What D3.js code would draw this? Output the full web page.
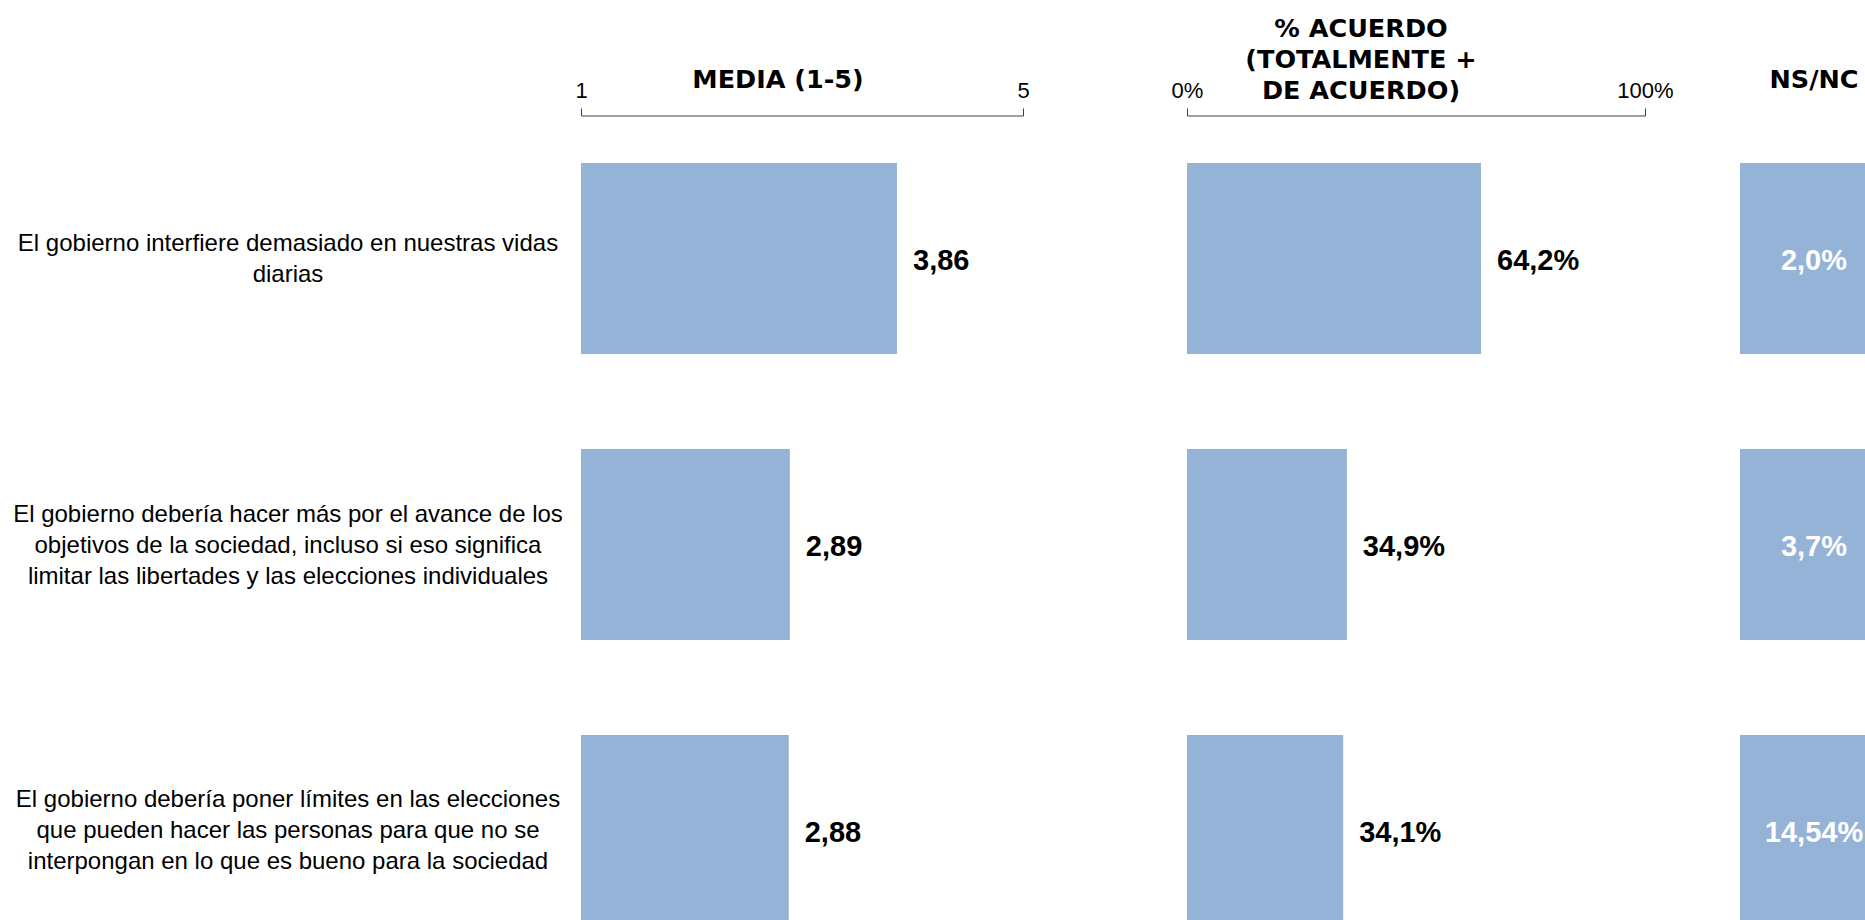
<!DOCTYPE html>
<head>
  <meta charset="utf-8">
  <script src="https://cdnjs.cloudflare.com/ajax/libs/d3/7.8.5/d3.min.js"></script>
</head>

<style>
  body { margin: 0; background: #fff; }
  .axis path, .axis line { stroke: #404040; }
  .axis text { font-family: "Liberation Sans", Arial, sans-serif; font-size: 22px; fill: #000; }
  .head { font-family: "DejaVu Sans", sans-serif; font-weight: bold; font-size: 25.5px; fill: #000; }
  .cat { font-family: "Liberation Sans", Arial, sans-serif; font-size: 24px; fill: #000; }
  .val { font-family: "Liberation Sans", Arial, sans-serif; font-weight: bold; font-size: 29px; fill: #000; }
  .nsval { font-family: "Liberation Sans", Arial, sans-serif; font-weight: bold; font-size: 29px; fill: #fff; }
  .bar { fill: #95b3d7; }
</style>

<body>
  <svg width="1865" height="920" class="chart"></svg>

  <script>
  // data
  let categories = [
    "El gobierno interfiere demasiado en nuestras vidas diarias",
    "El gobierno debería hacer más por el avance de los objetivos de la sociedad, incluso si eso significa limitar las libertades y las elecciones individuales",
    "El gobierno debería poner límites en las elecciones que pueden hacer las personas para que no se interpongan en lo que es bueno para la sociedad"
  ];
  let catLines = [
    ["El gobierno interfiere demasiado en nuestras vidas", "diarias"],
    ["El gobierno debería hacer más por el avance de los", "objetivos de la sociedad, incluso si eso significa", "limitar las libertades y las elecciones individuales"],
    ["El gobierno debería poner límites en las elecciones", "que pueden hacer las personas para que no se", "interpongan en lo que es bueno para la sociedad"]
  ];
  let media = [3.86, 2.89, 2.88];
  let acuerdo = [64.2, 34.9, 34.1];
  let nsnc = [2.0, 3.7, 14.54];
  let nsncLabels = ["2,0%", "3,7%", "14,54%"];
  let mediaTicks = [1, 5];
  let acuerdoTicks = [0, 100];

  let svg = d3.select(".chart");
  let loc = d3.formatLocale({decimal: ",", thousands: ".", grouping: [3], currency: ["", "€"]});
  let f2 = loc.format(".2f"), f1 = loc.format(".1f");

  let y = d3.scaleBand().domain(categories).range([163, 926]).paddingInner(0.332).paddingOuter(0);
  let xm = d3.scaleLinear().domain([1, 5]).range([581, 1023]);
  let xp = d3.scaleLinear().domain([0, 100]).range([1187, 1645]);
  let nsX = 1740, nsW = 148;

  // axes
  svg.append("g")
      .attr("class", "axis")
      .attr("transform", "translate(0,115.5)")
      .call(d3.axisTop(xm).tickValues(mediaTicks).tickSizeInner(0).tickSizeOuter(7).tickPadding(18)
        .tickFormat(d3.format("d")));

  svg.append("g")
      .attr("class", "axis")
      .attr("transform", "translate(0,115.5)")
      .call(d3.axisTop(xp).tickValues(acuerdoTicks).tickSizeInner(0).tickSizeOuter(7).tickPadding(18)
        .tickFormat(function(d) { return d + "%"; }));

  // headers
  svg.append("text").attr("class", "head").attr("x", 778).attr("y", 88)
      .attr("text-anchor", "middle").text("MEDIA (1-5)");
  let h2 = svg.append("text").attr("class", "head").attr("text-anchor", "middle");
  ["% ACUERDO", "(TOTALMENTE +", "DE ACUERDO)"].forEach(function(t, i) {
    h2.append("tspan").attr("x", 1361).attr("y", 37 + i * 31).text(t);
  });
  svg.append("text").attr("class", "head").attr("x", 1814).attr("y", 88)
      .attr("text-anchor", "middle").text("NS/NC");

  // category labels
  categories.forEach(function(c, i) {
    let lines = catLines[i];
    let cy = y(c) + y.bandwidth() / 2;
    let t = svg.append("text").attr("class", "cat").attr("text-anchor", "middle");
    lines.forEach(function(l, j) {
      t.append("tspan").attr("x", 288)
        .attr("y", cy + (j - (lines.length - 1) / 2) * 31 + 8)
        .text(l);
    });
  });

  // media bars
  svg.selectAll(".mbar")
    .data(media)
    .enter().append("rect")
      .attr("class", "bar")
      .attr("x", xm(1))
      .attr("y", function(d, i) { return y(categories[i]); })
      .attr("width", function(d) { return xm(d) - xm(1); })
      .attr("height", y.bandwidth());

  svg.selectAll(".mval")
    .data(media)
    .enter().append("text")
      .attr("class", "val")
      .attr("x", function(d) { return xm(d) + 16; })
      .attr("y", function(d, i) { return y(categories[i]) + y.bandwidth() / 2; })
      .attr("dy", "0.38em")
      .text(function(d) { return f2(d); });

  // acuerdo bars
  svg.selectAll(".pbar")
    .data(acuerdo)
    .enter().append("rect")
      .attr("class", "bar")
      .attr("x", xp(0))
      .attr("y", function(d, i) { return y(categories[i]); })
      .attr("width", function(d) { return xp(d) - xp(0); })
      .attr("height", y.bandwidth());

  svg.selectAll(".pval")
    .data(acuerdo)
    .enter().append("text")
      .attr("class", "val")
      .attr("x", function(d) { return xp(d) + 16; })
      .attr("y", function(d, i) { return y(categories[i]) + y.bandwidth() / 2; })
      .attr("dy", "0.38em")
      .text(function(d) { return f1(d) + "%"; });

  // ns/nc boxes
  svg.selectAll(".nbar")
    .data(nsnc)
    .enter().append("rect")
      .attr("class", "bar")
      .attr("x", nsX)
      .attr("y", function(d, i) { return y(categories[i]); })
      .attr("width", nsW)
      .attr("height", y.bandwidth());

  svg.selectAll(".nval")
    .data(nsnc)
    .enter().append("text")
      .attr("class", "nsval")
      .attr("text-anchor", "middle")
      .attr("x", nsX + nsW / 2)
      .attr("y", function(d, i) { return y(categories[i]) + y.bandwidth() / 2; })
      .attr("dy", "0.38em")
      .text(function(d, i) { return nsncLabels[i]; });
  </script>
</body>
</html>
